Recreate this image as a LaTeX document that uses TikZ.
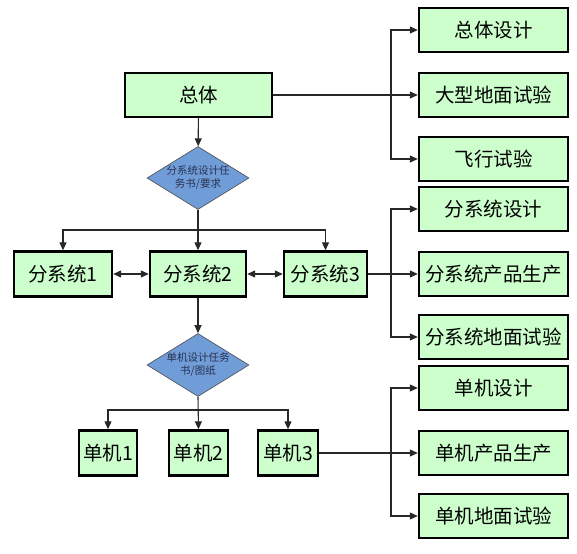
\documentclass[tikz,border=0pt]{standalone}
\usepackage{fontspec}
\newfontfamily\cjk{Noto Sans CJK SC}
\usetikzlibrary{shapes.geometric,arrows.meta}
\definecolor{boxfill}{RGB}{204,255,204}
\definecolor{diafill}{RGB}{112,156,216}
\definecolor{diatext}{RGB}{40,50,80}
\definecolor{linecol}{RGB}{40,40,40}
\begin{document}
\begin{tikzpicture}[x=1pt,y=-1pt,
  box/.style={draw=black,line width=2.4pt,fill=boxfill,minimum height=44pt,inner sep=0pt,
    font=\cjk\fontsize{19.5}{22}\selectfont},
  rbox/.style={box,minimum width=149pt},
  dia/.style={diamond,draw=black!70,line width=0.6pt,fill=diafill,minimum width=102pt,minimum height=63pt,inner sep=0pt},
  diatxt/.style={font=\cjk\fontsize{10.5}{13}\selectfont,text=diatext,align=center},
  conn/.style={draw=linecol,line width=1.1pt,-{Triangle[length=8pt,width=7pt]}},
  dconn/.style={draw=linecol,line width=1.1pt,{Triangle[length=8pt,width=7pt]}-{Triangle[length=8pt,width=7pt]}},
  plain/.style={draw=linecol,line width=1.1pt}]
\useasboundingbox (0,0) rectangle (577,553);
\fill[white] (0,0) rectangle (577,553);
% top level
\node[box,minimum width=147pt] (zt) at (198.5,95) {总体};
\node[rbox] (r1) at (493.5,30) {总体设计};
\node[rbox] (r2) at (493.5,95) {大型地面试验};
\node[rbox] (r3) at (493.5,159) {飞行试验};
\node[rbox] (r4) at (493.5,209) {分系统设计};
\node[rbox] (r5) at (493.5,274) {分系统产品生产};
\node[rbox] (r6) at (493.5,337) {分系统地面试验};
\node[rbox] (r7) at (493.5,388) {单机设计};
\node[rbox] (r8) at (493.5,453) {单机产品生产};
\node[rbox] (r9) at (493.5,516) {单机地面试验};
% diamonds
\node[dia] (d1) at (198,178) {};
\node[diatxt] (d1t) at (d1.center) {分系统设计任\\务书/要求};
\node[dia] (d2) at (198,365) {};
\node[diatxt] (d2t) at (d2.center) {单机设计任务\\书/图纸};
% subsystems
\node[box,minimum width=98pt,minimum height=45pt] (s1) at (63,274) {分系统1};
\node[box,minimum width=96pt,minimum height=45pt] (s2) at (198,274) {分系统2};
\node[box,minimum width=83pt,minimum height=45pt] (s3) at (325.5,274) {分系统3};
% units
\node[box,minimum width=58pt,minimum height=45pt] (u1) at (108,453) {单机1};
\node[box,minimum width=59pt,minimum height=45pt] (u2) at (198.5,453) {单机2};
\node[box,minimum width=60pt,minimum height=45pt] (u3) at (288,453) {单机3};
% coordinates for branches
\coordinate (b1) at (391,95);
\coordinate (b2) at (391,274);
\coordinate (b3) at (391,453);
\coordinate (h1) at (198,230);
\coordinate (h2) at (198,410);
% connectors top
\draw[conn] (zt) -- (d1);
\draw[conn] (zt.east) -- (r2.west);
\draw[conn] (b1) |- (r1.west);
\draw[conn] (b1) |- (r3.west);
% subsystem branch
\draw[conn] (d1.south) -- (s2.north);
\draw[conn] (h1) -| (s1.north);
\draw[conn] (h1) -| (s3.north);
\draw[dconn] (s1) -- (s2);
\draw[dconn] (s2) -- (s3);
\draw[conn] (s3.east) -- (r5.west);
\draw[conn] (b2) |- (r4.west);
\draw[conn] (b2) |- (r6.west);
% unit branch
\draw[conn] (s2.south) -- (d2.north);
\draw[conn] (d2.south) -- (u2.north);
\draw[conn] (h2) -| (u1.north);
\draw[conn] (h2) -| (u3.north);
\draw[conn] (u3.east) -- (r8.west);
\draw[conn] (b3) |- (r7.west);
\draw[conn] (b3) |- (r9.west);
\end{tikzpicture}
\end{document}
